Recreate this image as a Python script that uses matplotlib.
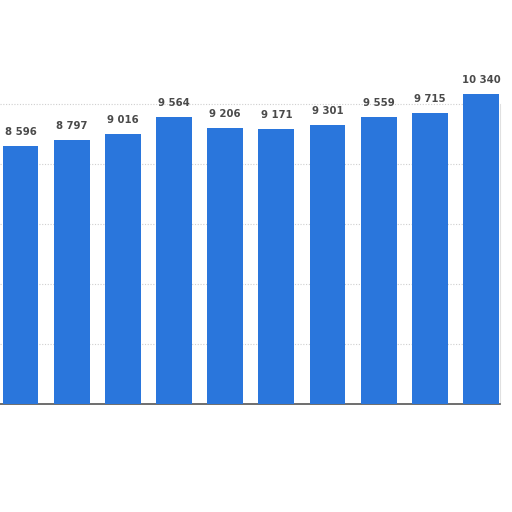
import matplotlib
matplotlib.use("Agg")
import matplotlib.pyplot as plt

values = [8596, 8797, 9016, 9564, 9206, 9171, 9301, 9559, 9715, 10340]
labels = ["8 596", "8 797", "9 016", "9 564", "9 206", "9 171", "9 301", "9 559", "9 715", "10 340"]
grid_levels = [2000, 4000, 6000, 8000, 10000]

fig = plt.figure(figsize=(5.12, 5.12), dpi=100)
ax = fig.add_axes([0, 108 / 512, 500 / 512, 362 / 512])
ax.set_facecolor("white")

x = list(range(len(values)))
bars = ax.bar(x, values, width=0.70, color="#2a76dc", zorder=3)

for g in grid_levels:
    ax.axhline(g, color="#cfcfcf", lw=0.8, ls=(0, (1, 1.5)), zorder=1)

for b, lab in zip(bars, labels):
    ax.annotate(lab, (b.get_x() + b.get_width() / 2, b.get_height()),
                xytext=(0, 6.5), textcoords="offset points",
                ha="center", va="bottom", fontsize=7.3,
                fontweight="bold", color="#4a4a4a")

ax.set_xlim(-0.40, 9.37)
ax.set_ylim(0, 12070)
for side in ["top", "left"]:
    ax.spines[side].set_visible(False)
ax.spines["right"].set_bounds(0, 10000)
ax.spines["right"].set_color("#e0e0e0")
ax.spines["bottom"].set_color("#555555")
ax.spines["bottom"].set_linewidth(1.2)
ax.set_xticks([])
ax.set_yticks([])

fig.savefig("out.png", dpi=100)
